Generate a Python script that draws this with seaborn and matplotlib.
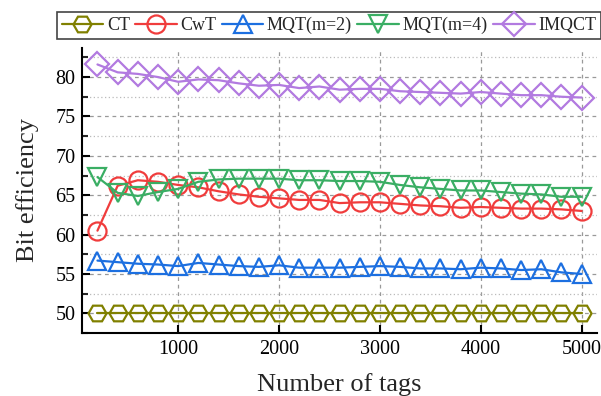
import numpy as np
import pandas as pd
import matplotlib
matplotlib.use("Agg")
import matplotlib.pyplot as plt
from matplotlib.ticker import MultipleLocator
import seaborn as sns

tags = list(range(200, 5001, 200))
ct = [50.1] * 25
cwt = [60.5, 66.2, 66.9, 66.7, 66.3, 66.0, 65.5, 65.1, 64.8, 64.6, 64.4, 64.4, 64.0,
       64.1, 64.1, 63.9, 63.7, 63.6, 63.4, 63.5, 63.4, 63.3, 63.3, 63.2, 63.0]
mqt2 = [56.7, 56.5, 56.3, 56.2, 56.0, 56.4, 56.2, 56.0, 55.9, 56.1, 55.8, 55.8, 55.8,
        55.9, 56.0, 55.9, 55.7, 55.7, 55.6, 55.8, 55.7, 55.5, 55.6, 55.2, 55.0]
mqt4 = [67.3, 65.3, 64.9, 65.4, 65.8, 66.7, 67.0, 67.1, 67.1, 67.1, 66.9, 66.9, 66.8,
        66.8, 66.7, 66.3, 66.0, 65.8, 65.6, 65.6, 65.4, 65.2, 65.1, 64.8, 64.8]
imqct = [81.6, 80.6, 80.4, 80.0, 79.4, 79.7, 79.6, 79.2, 78.9, 79.0, 78.6, 78.8, 78.4,
         78.5, 78.5, 78.2, 78.1, 78.0, 77.9, 78.1, 77.9, 77.7, 77.7, 77.5, 77.4]

names = ["CT", "CwT", "MQT(m=2)", "MQT(m=4)", "IMQCT"]
series = [ct, cwt, mqt2, mqt4, imqct]
colors = ["#808000", "#F03C3C", "#1C6FE0", "#3AAE64", "#B27AE0"]
markers = ["H", "o", "^", "v", "D"]
msizes = [13, 13, 13, 13, 12]

sns.set_theme(style="ticks")
plt.rcParams["font.family"] = ["Liberation Serif", "DejaVu Serif"]
plt.rcParams["mathtext.fontset"] = "stix"

fig = plt.figure(figsize=(6.01, 3.96), dpi=100)
ax = fig.add_axes([0.137, 0.159, 0.856, 0.72])

for name, vals, c, m, ms in zip(names, series, colors, markers, msizes):
    df = pd.DataFrame({"tags": tags, "eff": vals})
    sns.lineplot(data=df, x="tags", y="eff", ax=ax, color=c, marker=m, markersize=ms,
                 markerfacecolor="none", markeredgecolor=c, markeredgewidth=1.6,
                 linewidth=1.6, label=name)

ax.set_xlim(50, 5150)
ax.set_ylim(47.5, 83.7)
ax.xaxis.set_major_locator(MultipleLocator(1000))
ax.yaxis.set_major_locator(MultipleLocator(5))
ax.yaxis.set_minor_locator(MultipleLocator(2.5))
ax.grid(which="major", linestyle=(0, (3, 3)), color="#999999", linewidth=0.9)
ax.grid(which="minor", axis="y", linestyle=(0, (1, 2)), color="#bbbbbb", linewidth=0.9)
ax.set_axisbelow(True)
ax.tick_params(which="major", direction="in", length=6, width=1.5, labelsize=14.5,
               colors="black", pad=5)
ax.tick_params(which="minor", direction="in", length=4, width=1.5)
ax.tick_params(axis="x", which="minor", bottom=False)
for s in ["top", "right"]:
    ax.spines[s].set_visible(False)
for s in ["left", "bottom"]:
    ax.spines[s].set_linewidth(1.5)
    ax.spines[s].set_color("black")

ax.set_xlabel("Number of tags", fontsize=19, labelpad=10)
ax.set_ylabel("Bit efficiency", fontsize=19, labelpad=12)

leg = ax.legend(loc="upper left", bbox_to_anchor=(-0.049, 1.125), ncol=5, fontsize=13,
                frameon=True, fancybox=False, edgecolor="#444444", framealpha=1,
                handlelength=2.3, handletextpad=0.2, columnspacing=0.3,
                borderpad=0.25, borderaxespad=0)
leg.get_frame().set_linewidth(1.2)

fig.savefig("out.png", dpi=100)
